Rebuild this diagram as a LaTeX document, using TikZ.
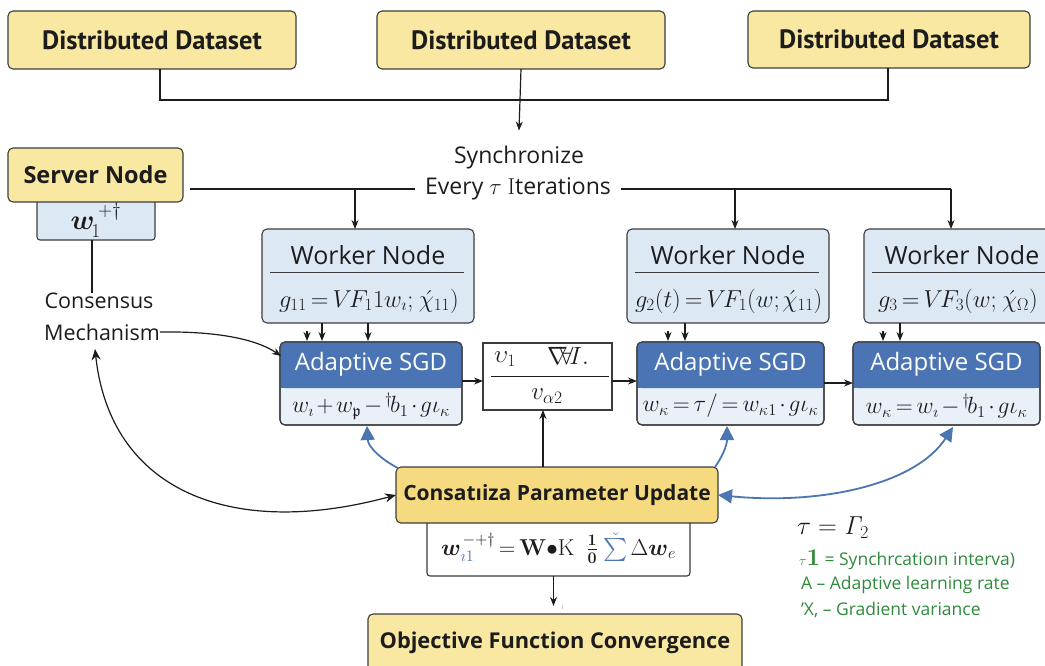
\RequirePackage{fix-cm}
\documentclass[tikz,border=0pt]{standalone}
\usepackage{amsmath,amssymb}
\usepackage[no-math]{fontspec}
\setmainfont{Open Sans}
\newfontfamily\datafont{PT Sans}
\usetikzlibrary{arrows.meta,calc}

\definecolor{edge}{HTML}{3C3C3C}
\definecolor{ink}{HTML}{1C1C1C}
\definecolor{dsyellow}{HTML}{F9E8A2}
\definecolor{upyellow}{HTML}{F6DA80}
\definecolor{lightblue}{HTML}{DDE8F5}
\definecolor{paleblue}{HTML}{E9F0F8}
\definecolor{sgdblue}{HTML}{4A74B4}
\definecolor{arrowblue}{HTML}{4C76B2}
\definecolor{legendgreen}{HTML}{2F8A3C}

\newcommand{\setfs}[1]{\fontsize{#1}{#1}\selectfont}
% compact formula spacing
\newcommand{\tightmath}{\thickmuskip=3mu\relax\medmuskip=2mu\relax\thinmuskip=2mu\relax}

% worker box: name, centre x, width, formula left offset, formula
\newcommand{\workerunit}[5]{%
  \node[box, fill=lightblue, minimum width=#3, minimum height=94] (#1) at (#2,276) {};
  \node[font=\setfs{25}] (#1t) at (#2,255) {Worker Node};
  \draw[rule] ($(#1.north west)+(8,43)$) -- ($(#1.north east)+(-10,43)$);
  \node[font=\setfs{24.5}\tightmath, anchor=west] (#1f) at ($(#1.west)+(#4,25)$) {#5};
}

% adaptive SGD box: name, centre x, width, formula
\newcommand{\sgdunit}[4]{%
  \node[box, fill=paleblue, minimum width=#3, minimum height=83] (#1) at (#2,383.5) {};
  \node[rounded corners=5pt, fill=sgdblue, minimum width=#3, minimum height=46] (#1h) at (#2,365) {};
  \fill[sgdblue] (#1h.west) rectangle (#1h.south east);
  \node[box, minimum width=#3, minimum height=83] at (#2,383.5) {};
  \node[font=\setfs{24}, text=white] at (#2,364) {Adaptive SGD};
  \node[font=\setfs{23.5}\tightmath] (#1f) at (#2,406) {#4};
}

\begin{document}
\begin{tikzpicture}[x=1pt,y=-1pt,
  every node/.style={inner sep=0pt, outer sep=0pt, text=ink},
  box/.style={draw=edge, line width=1.1pt, rounded corners=5pt},
  rule/.style={draw=edge, line width=0.9pt},
  link/.style={draw=ink, line width=1.2pt},
  arrow/.style={link, -{Stealth[length=9pt,width=7pt]}},
  twoway/.style={link, {Stealth[length=11pt,width=9pt]}-{Stealth[length=11pt,width=9pt]}},
  bluearrow/.style={draw=arrowblue, line width=1.8pt, -{Triangle[length=14pt,width=14pt]}},
  bluetwoway/.style={draw=arrowblue, line width=1.8pt, {Triangle[length=14pt,width=14pt]}-{Triangle[length=14pt,width=14pt]}},
  dataset/.style={box, fill=dsyellow, minimum height=58, font=\datafont\bfseries\setfs{26.5}},
  legend/.style={anchor=west, text=legendgreen, font=\setfs{17.5}}]

\useasboundingbox (0,0) rectangle (1045,666);
\clip (0,0) rectangle (1045,666);
\fill[white] (0,0) rectangle (1045,666);

% ---- datasets -------------------------------------------------------
\node[dataset, minimum width=288] (d1) at (152,40) {Distributed Dataset};
\node[dataset, minimum width=288] (d2) at (521,40) {Distributed Dataset};
\node[dataset, minimum width=282, minimum height=57] (d3) at (889,39.5) {Distributed Dataset};

\coordinate (j1) at (160,100);
\coordinate (j3) at (888,100);
\draw[link] (j1 |- d1.south) -- (j1) -- (j3) -- (j3 |- d3.south);

% ---- synchronisation ------------------------------------------------
\node[font=\setfs{23}] (sync1) at (519,158) {Synchronize};
\node[font=\setfs{23}, inner xsep=10pt] (sync2) at (518,189) {Every $\tau$ $\mathrm{I}$terations};
\draw[arrow] (d2.south) -- ([yshift=16pt]sync1.north);

% ---- server ---------------------------------------------------------
\node[box, fill=lightblue, rounded corners=3pt, minimum width=118, minimum height=40] (sv) at (96,220)
  {\setfs{28}$\boldsymbol{w}_{\!1}^{\,+\dagger}$};
\node[box, fill=dsyellow, minimum width=175, minimum height=54, font=\bfseries\setfs{23.5}] (srv) at (95.5,175) {Server Node};

\node[font=\setfs{21.5}] (cons1) at (99,301) {Consensus};
\node[font=\setfs{21.5}] (cons2) at (102,332) {Mechanism};
\draw[link] (sv.south -| 92,0) -- (cons1.north -| 92,0);

% ---- workers --------------------------------------------------------
\workerunit{w1}{368}{212}{17}{$g_{11} = V\!F_{1}1w_{\imath};\,\acute{\chi}_{11})$}
\workerunit{w2}{728}{202}{8}{$g_{2}(t) = V\!F_{1}(w;\acute{\chi}_{11})$}
\workerunit{w3}{962}{196}{14}{$g_{3} = V\!F_{3}(w;\,\acute{\chi}_{\Omega})$}

\coordinate (t1) at (355,189);
\coordinate (t2) at (735,189);
\coordinate (t3) at (951,189);
\draw[link] ([xshift=7pt]srv.east |- sync2.west) -- (sync2.west);
\draw[link] (sync2.east) -- (t3);
\draw[arrow] (t1) -- (t1 |- w1.north);
\draw[arrow] (t2) -- (t2 |- w2.north);
\draw[arrow] (t3) -- (t3 |- w3.north);

% ---- adaptive SGD ---------------------------------------------------
\sgdunit{s1}{371}{182}{$w_{\imath} + w_{\mathfrak{p}} - {}^{\dagger}\!b_{1}\cdot g\iota_{\kappa}$}
\sgdunit{s2}{730.5}{187}{$w_{\kappa} = \tau/ = w_{\kappa 1}\cdot g\iota_{\kappa}$}
\sgdunit{s3}{946.5}{187}{$w_{\kappa} = w_{\imath} - {}^{\dagger}\!b_{1}\cdot g\iota_{\kappa}$}

% short feeds from workers into the SGD blocks
\foreach \xa/\xb in {307/322, 668/685, 883/900}{
  \draw[arrow] (\xa,331) -- (\xa,341);
  \draw[arrow] (\xb,323) -- (\xb,341);
}
\draw[arrow] (368,323) -- (368,341);

% ---- middle ratio box -----------------------------------------------
\node[draw=edge, line width=1.1pt, fill=white, minimum width=129, minimum height=67] (mid) at (547.5,376.5) {};
\node[font=\setfs{25}] (mt1) at (505,359) {$\upsilon_{1}$};
\node[font=\setfs{25}] (mt2) at (568,356) {$\nabla\!\!\forall\! I.$};
\draw[link] ($(mid.west)+(8,0)$) -- ($(mid.east)+(-3,0)$);
\node[font=\setfs{25}] (mt3) at (547,396) {$v_{\alpha 2}$};

\draw[arrow] (s1.east |- 0,381) -- (mid.west |- 0,381);
\draw[arrow] (mid.east |- 0,381) -- (s2.west |- 0,381);
\draw[arrow] (s2.east |- 0,383) -- (s3.west |- 0,383);

% ---- consensus update -----------------------------------------------
\node[box, fill=white, rounded corners=3pt, minimum width=263, minimum height=55, font=\setfs{23}\tightmath] (upf) at (558.5,548.5)
  {$\boldsymbol{w}_{\textcolor{arrowblue}{\imath 1}}^{\,-+\dagger} = \mathbf{W}{\bullet}\mathrm{K}\ \ \boldsymbol{\tfrac{1}{0}}\ \textcolor{arrowblue}{\check{\sum}}\,\Delta\boldsymbol{w}_{e}$};
\node[box, fill=upyellow, minimum width=322, minimum height=56, font=\bfseries\setfs{21}] (cpu) at (557,495)
  {Consatıiza Parameter Update};

\node[box, fill=dsyellow, minimum width=374, minimum height=58, font=\bfseries\setfs{21.8}] (obj) at (555,643)
  {Objective Function Convergence};
\draw[arrow] ([xshift=-5pt]upf.south) -- ([xshift=-5pt]upf.south |- 0,606);
\node[font=\setfs{6}, text=gray] (tick) at (563,607) {i};

\draw[arrow] (cpu.north -| 543,0) -- (mid.south -| 543,0);

% ---- curved links ---------------------------------------------------
\draw[arrow] (cons2.east) .. controls (230,331) and (262,343) .. (281,356);
\draw[twoway] (95,349) .. controls (110,490) and (230,540) .. (cpu.west);

\draw[bluearrow] (398,468) .. controls (382,460) and (368,447) .. (367,426);
\draw[bluearrow] (715,467) .. controls (722,457) and (727,446) .. (727,426);
\draw[bluetwoway] (953,427) .. controls (915,485) and (820,505) .. (cpu.east);

% ---- legend ---------------------------------------------------------
\node[anchor=west, font=\setfs{26}] (lg0) at (797,528) {$\tau = \mathit{\Gamma}_{2}$};
\node[legend] (lg1) at (799,560) {{\setfs{14}$\tau$}{\setfs{24}$\mathbf{1}$} = Synchrcatioın interva)};
\node[legend] (lg2) at (801,585) {A – Adaptive learning rate};
\node[legend] (lg3) at (801,610) {'X, – Gradient variance};

\end{tikzpicture}
\end{document}
